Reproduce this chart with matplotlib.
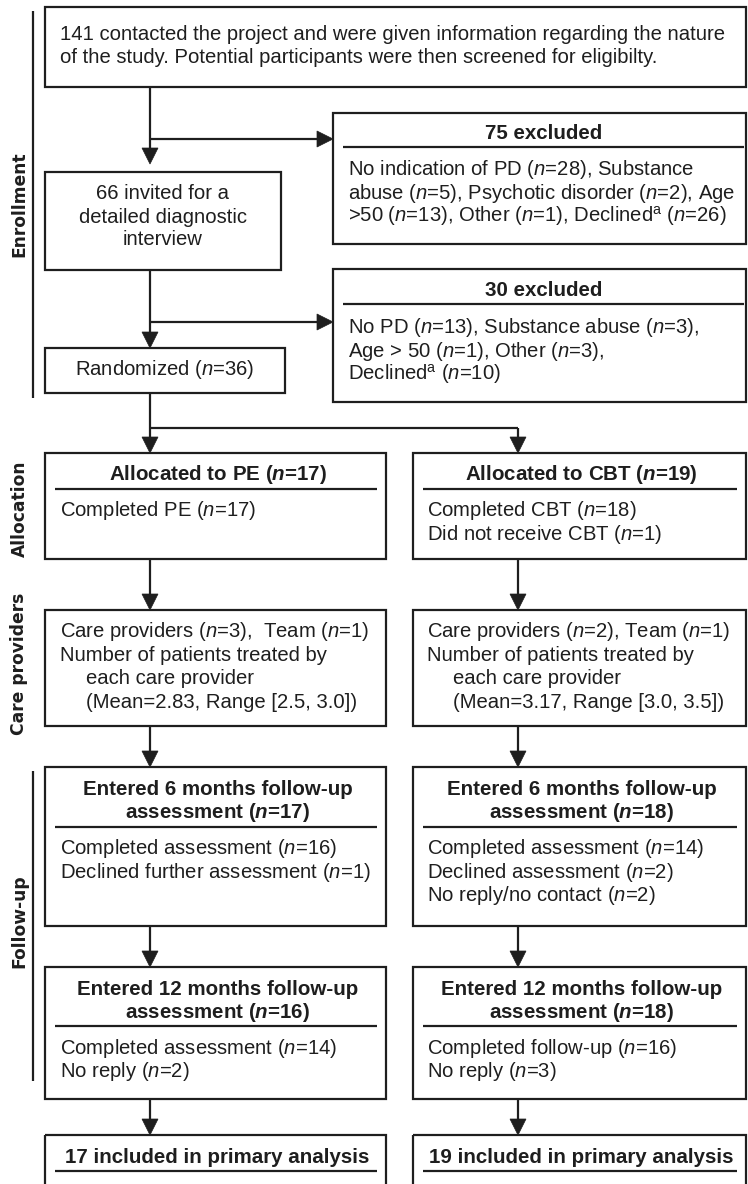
import matplotlib
matplotlib.use('Agg')
import matplotlib.pyplot as plt
from matplotlib.patches import Rectangle, Polygon

plt.rcParams['font.family'] = 'Liberation Sans'
plt.rcParams['mathtext.fontset'] = 'custom'
plt.rcParams['mathtext.rm'] = 'Liberation Sans'
plt.rcParams['mathtext.it'] = 'Liberation Sans:italic'
plt.rcParams['mathtext.bf'] = 'Liberation Sans:bold'
plt.rcParams['mathtext.bfit'] = 'Liberation Sans:italic:bold'

# numbers in the flow
screened = 141
invited = 66
randomized = 36
excl_screen_n = 75
excl_screen_counts = [28, 5, 2, 13, 1, 26]   # no PD, substance, psychotic, age, other, declined
excl_interview_n = 30
excl_interview_counts = [13, 3, 1, 3, 10]    # no PD, substance, age, other, declined
arms = ['PE', 'CBT']
allocated = [17, 19]
completed_tx = [17, 18]
no_tx = [0, 1]
providers = [3, 2]
teams = [1, 1]
prov_mean = ['2.83', '3.17']
prov_range = ['[2.5, 3.0]', '[3.0, 3.5]']
fu6_entered = [17, 18]
fu6_completed = [16, 14]
fu6_declined = [1, 2]
fu6_noreply = [0, 2]
fu12_entered = [16, 18]
fu12_completed = [14, 16]
fu12_noreply = [2, 3]
analysed = [17, 19]

sections = ['Enrollment', 'Allocation', 'Care providers', 'Follow-up']


def nn(v, bold=False):
    if bold:
        return r'($\mathbfit{n}$=%s)' % v
    return r'($n$=%s)' % v


SUP_A = r'$^{\mathrm{a}}$'
e1 = excl_screen_counts
e2 = excl_interview_counts

top_lines = [f'{screened} contacted the project and were given information regarding the nature',
             'of the study. Potential participants were then screened for eligibilty.']
excl1_lines = [f'No indication of PD {nn(e1[0])}, Substance',
               f'abuse {nn(e1[1])}, Psychotic disorder {nn(e1[2])}, Age',
               f'>50 {nn(e1[3])}, Other {nn(e1[4])}, Declined{SUP_A} {nn(e1[5])}']
excl2_lines = [f'No PD {nn(e2[0])}, Substance abuse {nn(e2[1])},',
               f'Age > 50 {nn(e2[2])}, Other {nn(e2[3])},',
               f'Declined{SUP_A} {nn(e2[4])}']
invited_lines = [f'{invited} invited for a', 'detailed diagnostic', 'interview']

INK = '#1e1e1e'
FS = 14.6
FSB = 14.8
LW = 1.6
HW, HL = 16, 16

fig = plt.figure(figsize=(7.48, 11.84), dpi=100)
ax = fig.add_axes([0, 0, 1, 1])
ax.set_xlim(0, 748)
ax.set_ylim(1184, 0)
ax.axis('off')


def box(x0, y0, x1, y1):
    ax.add_patch(Rectangle((x0, y0), x1 - x0, y1 - y0, fill=False, lw=LW, ec=INK))


def rule(x0, x1, y):
    ax.plot([x0, x1], [y, y], color=INK, lw=LW, solid_capstyle='butt')


def line(xs, ys):
    ax.plot(xs, ys, color=INK, lw=LW, solid_capstyle='butt')


def arrow_v(x, y0, tip):
    line([x, x], [y0, tip - HL + 1])
    ax.add_patch(Polygon([(x - HW / 2, tip - HL), (x + HW / 2, tip - HL), (x, tip)],
                         closed=True, fc=INK, ec=INK, lw=0.5))


def arrow_h(y, x0, tip):
    line([x0, tip - HL + 1], [y, y])
    ax.add_patch(Polygon([(tip - HL, y - HW / 2), (tip - HL, y + HW / 2), (tip, y)],
                         closed=True, fc=INK, ec=INK, lw=0.5))


def txt(x, yc, s, ha='left', bold=False):
    ax.text(x, yc + 6, s, ha=ha, va='baseline', fontsize=FSB if bold else FS, color=INK,
            fontweight='bold' if bold else 'normal')


def section(yc, label, y0=None, y1=None):
    if y0 is not None:
        line([33, 33], [y0, y1])
    ax.text(19.5, yc, label, rotation=90, ha='center', va='center',
            family='DejaVu Sans', fontweight='bold', fontsize=12.3, color=INK)


# enrollment
box(45, 7, 746, 87)
for y, s in zip([34, 57], top_lines):
    txt(60, y, s)
arrow_v(150, 87, 164)
arrow_h(139, 150, 333)

box(333, 113, 746, 244)
txt(544, 133, f'{excl_screen_n} excluded', ha='center', bold=True)
rule(343, 744, 147)
for y, s in zip([169, 193, 216], excl1_lines):
    txt(348, y, s)

box(45, 172, 281, 270)
for y, s in zip([193, 217, 239], invited_lines):
    txt(163, y, s, ha='center')
arrow_v(150, 270, 348)
arrow_h(322, 150, 333)

box(333, 269, 746, 402)
txt(544, 290, f'{excl_interview_n} excluded', ha='center', bold=True)
rule(343, 744, 304)
for y, s in zip([327, 351, 374], excl2_lines):
    txt(348, y, s)

box(45, 348, 285, 393)
txt(165, 369, f'Randomized {nn(randomized)}', ha='center')

# split to arms
line([150, 150], [393, 428])
line([150, 518], [428, 428])
arrow_v(150, 428, 453)
arrow_v(518, 428, 453)

cols = [(45, 386, 60, 86, 150), (413, 746, 427, 453, 518)]
for i, (x0, x1, xl, xi, xa) in enumerate(cols):
    xc = (x0 + x1) / 2 + 2
    ul0, ul1 = x0 + 10, x1 - 9
    # allocation
    box(x0, 453, x1, 559)
    txt(xc, 474, f'Allocated to {arms[i]} {nn(allocated[i], True)}', ha='center', bold=True)
    rule(ul0, ul1, 489)
    alloc_lines = [f'Completed {arms[i]} {nn(completed_tx[i])}']
    if no_tx[i]:
        alloc_lines.append(f'Did not receive {arms[i]} {nn(no_tx[i])}')
    for y, s in zip([510, 534], alloc_lines):
        txt(xl, y, s)
    arrow_v(xa, 559, 610)

    # care providers
    box(x0, 610, x1, 726)
    sep = ',  ' if i == 0 else ', '
    txt(xl, 631, f'Care providers {nn(providers[i])}{sep}Team {nn(teams[i])}')
    txt(xl, 655, 'Number of patients treated by')
    txt(xi, 678, 'each care provider')
    txt(xi, 702, f'(Mean={prov_mean[i]}, Range {prov_range[i]})')
    arrow_v(xa, 726, 767)

    # 6 months follow-up
    box(x0, 767, x1, 926)
    txt(xc, 789, 'Entered 6 months follow-up', ha='center', bold=True)
    txt(xc, 812, f'assessment {nn(fu6_entered[i], True)}', ha='center', bold=True)
    rule(ul0, ul1, 827)
    fu6_lines = [f'Completed assessment {nn(fu6_completed[i])}']
    if i == 0:
        fu6_lines.append(f'Declined further assessment {nn(fu6_declined[i])}')
    else:
        fu6_lines.append(f'Declined assessment {nn(fu6_declined[i])}')
    if fu6_noreply[i]:
        fu6_lines.append(f'No reply/no contact {nn(fu6_noreply[i])}')
    for y, s in zip([848, 872, 895], fu6_lines):
        txt(xl, y, s)
    arrow_v(xa, 926, 967)

    # 12 months follow-up
    box(x0, 967, x1, 1099)
    txt(xc, 989, 'Entered 12 months follow-up', ha='center', bold=True)
    txt(xc, 1012, f'assessment {nn(fu12_entered[i], True)}', ha='center', bold=True)
    rule(ul0, ul1, 1026)
    word = 'assessment' if i == 0 else 'follow-up'
    txt(xl, 1048, f'Completed {word} {nn(fu12_completed[i])}')
    txt(xl, 1071, f'No reply {nn(fu12_noreply[i])}')
    arrow_v(xa, 1099, 1135)

    # analysis
    box(x0, 1135, x1, 1210)
    txt(xc, 1157, f'{analysed[i]} included in primary analysis', ha='center', bold=True)
    rule(ul0, ul1, 1171)

# section labels on the left
section(204, sections[0], 11, 398)
section(509, sections[1])
section(664, sections[2])
section(921, sections[3], 771, 1081)

fig.savefig('out.png', dpi=100)
